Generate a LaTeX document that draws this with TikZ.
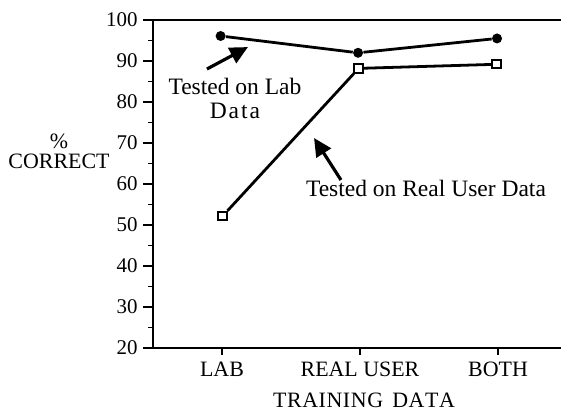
\documentclass[tikz,border=0pt]{standalone}
\usepackage{fontspec}
\setmainfont{Liberation Serif}
\usetikzlibrary{arrows.meta}

\begin{document}
\begin{tikzpicture}[x=69bp, y=2.05bp,
    font=\fontsize{11}{12}\selectfont,
    axisline/.style={line width=0.9pt},
    dataline/.style={line width=1.4pt},
    numlabel/.style={inner sep=0pt, font=\fontsize{10.5}{12}\selectfont},
    dotmark/.style={circle, fill=black, inner sep=0pt, minimum size=5bp},
    boxmark/.style={rectangle, draw, line width=1pt, fill=white, inner sep=0pt,
        minimum size=4.2bp,
        path picture={\fill (path picture bounding box.center) circle (0.5bp);}},
    pointer/.style={line width=1.6pt, -{Triangle[length=9bp, width=8.5bp]}}]

    \useasboundingbox (-0.6087, 3.66) rectangle (3.4565, 104.88);

    % Axes (frame open on the right)
    \draw[axisline, line width=1pt] (0.5, 20) -- (0.5, 100);
    \draw[axisline] (0.5, 100) -- (3.4565, 100);
    \draw[axisline] (0.5, 20) -- (3.4565, 20);

    % Vertical Axis Ticks & Labels
    \foreach \y in {20, 30, ..., 100} {
        \draw[axisline] (0.5, \y) -- ++(-5bp, 0);
        \node[numlabel, anchor=east] (ytick\y) at ([xshift=-7.5bp]0.5, \y) {\y};
    }
    \foreach \y in {25, 35, ..., 95} {
        \draw[axisline] (0.5, \y) -- ++(-2.5bp, 0);
    }

    % Horizontal Axis Ticks & Labels
    \foreach \x/\txt in {1/LAB, 2/REAL USER, 3/BOTH} {
        \draw[axisline] (\x, 20) -- ++(0, -3.5bp);
        \node[anchor=north, inner sep=0pt] (xtick\x) at ([yshift=-7bp]\x, 20) {\txt};
    }

    % Axis titles
    \node (xtitle) at (2.029, 7.3) {T\kern0.3pt R\kern0.3pt A\kern0.3pt I\kern0.3pt N\kern0.3pt I\kern0.3pt N\kern0.3pt G \,D\kern0.3pt A\kern0.3pt T\kern0.3pt A};
    \node (ypct) at (-0.181, 70.5) {\%};
    \node (ytitle) at (-0.181, 65.6) {CORRECT};

    % Tested on lab data
    \node[dotmark] (lab1) at (0.99, 96.1) {};
    \node[dotmark] (lab2) at (1.986, 92.0) {};
    \node[dotmark] (lab3) at (2.993, 95.5) {};
    \draw[dataline] (lab1) -- (lab2) -- (lab3);

    % Tested on real user data
    \node[boxmark] (user1) at (1.005, 52.2) {};
    \node[boxmark] (user2) at (1.99, 88.2) {};
    \node[boxmark] (user3) at (2.99, 89.2) {};
    \draw[dataline] (user1) -- (user2) -- (user3);

    % Curve labels with pointers
    \node[align=center, font=\fontsize{11.8}{12}\selectfont] (labtxt) at (1.094, 80.9) {Tested on Lab\\D\kern1pt a\kern1pt t\kern1pt a};
    \coordinate (labfrom) at (0.891, 88.05);
    \coordinate (labto) at (1.188, 93.4);
    \draw[pointer] (labfrom) -- (labto);

    \node[font=\fontsize{11.8}{12}\selectfont] (usertxt) at (2.478, 59.0) {Tested on Real User Data};
    \coordinate (userfrom) at (1.862, 60.98);
    \coordinate (userto) at (1.667, 71.22);
    \draw[pointer] (userfrom) -- (userto);

\end{tikzpicture}
\end{document}
